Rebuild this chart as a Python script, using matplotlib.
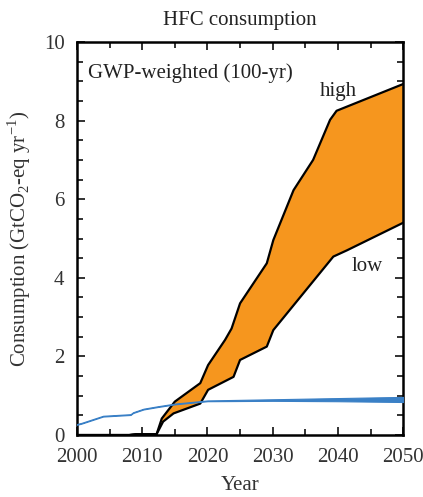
import matplotlib.pyplot as plt
from matplotlib.ticker import MultipleLocator

plt.rcParams['font.family'] = ['Liberation Serif', 'DejaVu Serif']
plt.rcParams['mathtext.fontset'] = 'custom'
plt.rcParams['mathtext.rm'] = 'Liberation Serif'

# high / low scenario envelopes (GtCO2-eq per year)
high_years = [2000, 2008, 2009, 2012.2, 2013, 2015, 2018.9, 2020.1, 2022.7, 2023.7, 2025,
              2029.1, 2030.1, 2033.2, 2036.2, 2038.8, 2039.8, 2050]
high_vals = [0.0, 0.0, 0.02, 0.02, 0.42, 0.85, 1.32, 1.78, 2.42, 2.71, 3.35,
             4.37, 4.96, 6.23, 7.0, 8.02, 8.25, 8.93]
low_years = [2000, 2008, 2009, 2012.2, 2013.2, 2014.8, 2018.9, 2020.1, 2024, 2025,
             2029.1, 2030.1, 2039.3, 2041.4, 2050]
low_vals = [0.0, 0.0, 0.02, 0.02, 0.34, 0.55, 0.8, 1.15, 1.48, 1.91,
            2.25, 2.67, 4.54, 4.7, 5.4]

# historical / baseline band
blue_years = [2000, 2000.7, 2004, 2008.2, 2008.6, 2010.2, 2012.3, 2015, 2020, 2030, 2040, 2050]
blue_low = [0.26, 0.29, 0.47, 0.51, 0.56, 0.65, 0.71, 0.78, 0.86, 0.87, 0.86, 0.84]
blue_high = [0.28, 0.31, 0.49, 0.53, 0.58, 0.67, 0.73, 0.80, 0.88, 0.91, 0.94, 0.97]

fig = plt.figure(figsize=(4.23, 4.97), dpi=100)
ax = fig.add_axes([0.182, 0.1247, 0.771, 0.7908])

orange = '#f6961e'
blue = '#3a80c6'
fs = 15

# orange envelope between low and high
ax.fill(high_years + low_years[::-1], high_vals + low_vals[::-1], color=orange, lw=0, zorder=2)
ax.plot(high_years, high_vals, color='black', lw=1.6, zorder=3)
ax.plot(low_years, low_vals, color='black', lw=1.6, zorder=3)

ax.fill_between(blue_years, blue_low, blue_high, color=blue, lw=0.8, edgecolor=blue, zorder=4)

ax.set_xlim(2000, 2050)
ax.set_ylim(0, 10)
ax.xaxis.set_major_locator(MultipleLocator(10))
ax.xaxis.set_minor_locator(MultipleLocator(5))
ax.yaxis.set_major_locator(MultipleLocator(2))
ax.yaxis.set_minor_locator(MultipleLocator(0.5))
ax.tick_params(which='both', direction='in', top=True, right=True, labelsize=fs,
               width=1.3, color='#222222', labelcolor='#333333')
ax.tick_params(which='major', length=6)
ax.tick_params(which='minor', length=4)
ax.tick_params(axis='x', which='major', pad=9)
ax.tick_params(axis='y', which='major', pad=9)
for s in ax.spines.values():
    s.set_linewidth(1.8)

ax.set_xlabel('Year', fontsize=fs, color='#333333', labelpad=7)
ax.set_ylabel('Consumption (GtCO$_2$-eq yr$^{-1}$)', fontsize=fs, color='#333333', labelpad=8)
ax.set_title('HFC consumption', fontsize=fs, color='#222222', pad=12)
ax.text(0.035, 0.945, 'GWP-weighted (100-yr)', transform=ax.transAxes, fontsize=fs,
        va='top', color='#222222')
ax.text(2040, 8.75, 'high', fontsize=fs, ha='center', va='center', color='#222222')
ax.text(2044.5, 4.3, 'low', fontsize=fs, ha='center', va='center', color='#222222')

fig.savefig('out.png', dpi=100)
